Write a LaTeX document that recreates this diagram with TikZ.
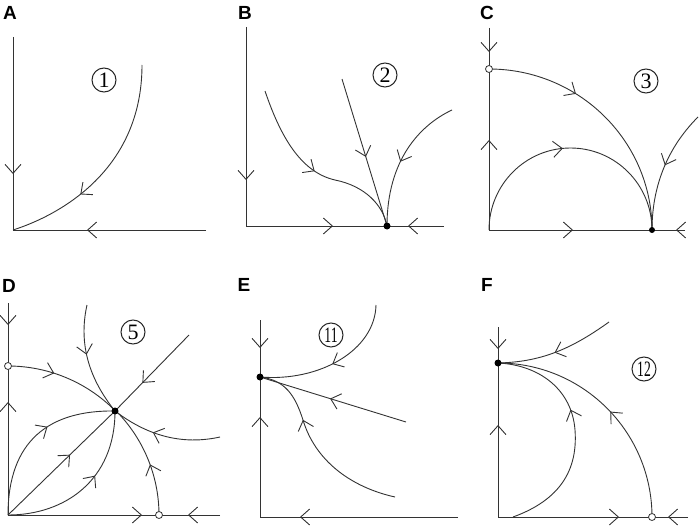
\documentclass[tikz,border=0pt]{standalone}
\usepackage{fontspec}
\usepackage{graphicx}
\setmainfont{Liberation Serif}
\newfontfamily\labfont{Liberation Sans}
\usetikzlibrary{arrows.meta,decorations.markings}
\tikzset{
  ln/.style={draw=black!80, line width=0.9pt},
  fwd/.style={postaction={decorate,decoration={markings,mark=at position #1 with {\arrow{Straight Barb[length=9pt,width=16pt]}}}}},
  panel/.style={font=\labfont\bfseries\fontsize{19}{19}\selectfont, inner sep=0},
  num/.style={draw=black!85, circle, line width=1pt, minimum size=24pt, inner sep=0, font=\fontsize{22}{22}\selectfont},
  fixd/.style={circle, fill=black, inner sep=0, minimum size=7pt},
  opend/.style={circle, draw=black!80, fill=white, inner sep=0, minimum size=7pt, line width=0.8pt},
}
\begin{document}
\begin{tikzpicture}[x=1pt,y=-1pt]
\useasboundingbox (0,0) rectangle (699,527);
% ---------- A ----------
\node[panel] (lA) at (10,13) {A};
\coordinate (Ao) at (13,230); \coordinate (Ay) at (13,37); \coordinate (Ax) at (206,230);
\draw[ln,fwd=137pt] (Ay) -- (Ao);
\draw[ln,fwd=119pt] (Ax) -- (Ao);
\draw[ln,fwd=0.66] (142,65) .. controls (142,170) and (60,215) .. (Ao);
\node[num] (nA) at (104,80) {1};
% ---------- B ----------
\node[panel] (lB) at (245,13) {B};
\coordinate (Bo) at (246,226); \coordinate (By) at (246,27); \coordinate (Bx) at (444,226); \coordinate (Bs) at (387,226);
\draw[ln,fwd=153pt] (By) -- (Bo);
\draw[ln,fwd=87pt] (Bo) -- (Bs);
\draw[ln,fwd=36pt] (Bx) -- (Bs);
\draw[ln,fwd=0.53] (342,79) -- (Bs);
\draw[ln,fwd=0.50] (265,91) .. controls (280,135) and (300,172) .. (335,180) .. controls (365,186) and (383,205) .. (Bs);
\draw[ln,fwd=0.53] (452,110) .. controls (420,125) and (387,160) .. (Bs);
\node[fixd] (Bsd) at (Bs) {};
\node[num] (nB) at (385,75) {2};
% ---------- C ----------
\node[panel] (lC) at (487,13) {C};
\coordinate (Co) at (489,230); \coordinate (Cy) at (489,28); \coordinate (Cx) at (685,230);
\coordinate (Cu) at (489,69); \coordinate (Cs) at (652,230);
\draw[ln,fwd=24pt] (Cy) -- (Cu);
\draw[ln,fwd=90pt] (Co) -- (Cu);
\draw[ln,fwd=84pt] (Co) -- (Cs);
\draw[ln,fwd=9pt] (Cx) -- (Cs);
\draw[ln,fwd=0.36] (Cu) arc[start angle=90, end angle=0, x radius=163, y radius=-161];
\draw[ln,fwd=0.47] (Co) arc[start angle=180, end angle=0, x radius=81.5, y radius=-82];
\draw[ln,fwd=0.47] (698,117) .. controls (665,150) and (652,190) .. (Cs);
\node[opend] (Cud) at (Cu) {};
\node[fixd, minimum size=6pt] (Csd) at (Cs) {};
\node[num] (nC) at (646,81) {3};
% ---------- D ----------
\node[panel] (lD) at (9,286) {D};
\coordinate (Do) at (8,515); \coordinate (Dy) at (8,303); \coordinate (Dx) at (220,515);
\coordinate (Du) at (8,366); \coordinate (Dv) at (159,515); \coordinate (Ds) at (115,411); \coordinate (Dd) at (189,335);
\draw[ln,fwd=22pt] (Dy) -- (Du);
\draw[ln,fwd=113pt] (Do) -- (Du);
\draw[ln,fwd=134pt] (Do) -- (Dv);
\draw[ln,fwd=32pt] (Dx) -- (Dv);
\draw[ln,fwd=0.58] (Do) -- (Ds);
\draw[ln,fwd=0.63] (Dd) -- (Ds);
\draw[ln,fwd=0.40] (Du) arc[start angle=90, end angle=45, x radius=150, y radius=-149];
\draw[ln,fwd=0.44] (Dv) arc[start angle=0, end angle=45, x radius=151, y radius=-149];
\draw[ln,fwd=0.44] (87,305) .. controls (78,345) and (90,380) .. (Ds);
\draw[ln,fwd=0.61] (220,437) .. controls (175,447) and (140,430) .. (Ds);
\draw[ln,fwd=0.59] (Do) .. controls (8,440) and (50,410) .. (Ds);
\draw[ln,fwd=0.59] (Do) .. controls (65,515) and (115,480) .. (Ds);
\node[opend] (Dud) at (Du) {};
\node[opend] (Dvd) at (Dv) {};
\node[fixd] (Dsd) at (Ds) {};
\node[num] (nD) at (133,332) {5};
% ---------- E ----------
\node[panel] (lE) at (244,285) {E};
\coordinate (Eo) at (260,517); \coordinate (Ey) at (260,320); \coordinate (Ex) at (458,517); \coordinate (Es) at (260,377);
\draw[ln,fwd=28pt] (Ey) -- (Es);
\draw[ln,fwd=100pt] (Eo) -- (Es);
\draw[ln,fwd=158pt] (Ex) -- (Eo);
\draw[ln,fwd=0.51] (376,305) .. controls (375,350) and (320,382) .. (Es);
\draw[ln,fwd=0.52] (406,422) -- (Es);
\draw[ln,fwd=0.66] (395,497) .. controls (350,487) and (315,460) .. (303,420) .. controls (295,395) and (285,380) .. (Es);
\node[fixd] (Esd) at (Es) {};
\node[num] (nE) at (331,335) {\scalebox{0.62}[1]{11}};
% ---------- F ----------
\node[panel] (lF) at (487,285) {F};
\coordinate (Fo) at (498,517); \coordinate (Fy) at (498,327); \coordinate (Fx) at (688,517);
\coordinate (Fs) at (498,363); \coordinate (Fv) at (652,517);
\draw[ln,fwd=22pt] (Fy) -- (Fs);
\draw[ln,fwd=92pt] (Fo) -- (Fs);
\draw[ln,fwd=121pt] (Fo) -- (Fv);
\draw[ln,fwd=20pt] (Fx) -- (Fv);
\draw[ln,fwd=0.52] (609,322) .. controls (570,350) and (540,362) .. (Fs);
\draw[ln,fwd=0.48] (Fv) arc[start angle=0, end angle=90, x radius=154, y radius=-154];
\draw[ln,fwd=0.60] (513,517) .. controls (560,500) and (578,470) .. (575,430) .. controls (572,390) and (540,365) .. (Fs);
\node[fixd] (Fsd) at (Fs) {};
\node[opend] (Fvd) at (Fv) {};
\node[num] (nF) at (644,369) {\scalebox{0.62}[1]{12}};
\end{tikzpicture}
\end{document}
